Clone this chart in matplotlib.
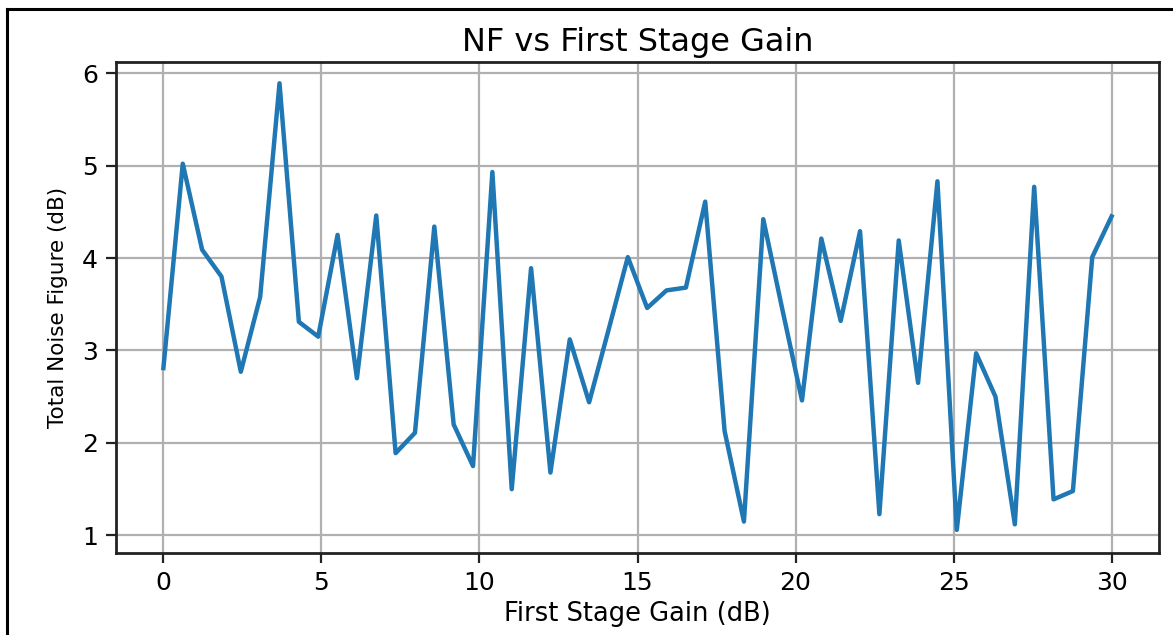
import numpy as np
import matplotlib.pyplot as plt
from matplotlib.lines import Line2D

# first stage gain sweep (dB), 50 evenly spaced points from 0 to 30
gain_start = 0
gain_stop = 30
n_points = 50

# total noise figure (dB)
nf_total = [2.81, 5.02, 4.09, 3.80, 2.77, 3.58, 5.89, 3.31, 3.15, 4.25,
            2.70, 4.46, 1.89, 2.11, 4.34, 2.20, 1.75, 4.93, 1.50, 3.89,
            1.68, 3.12, 2.44, 3.22, 4.01, 3.46, 3.65, 3.68, 4.61, 2.13,
            1.15, 4.42, 3.43, 2.46, 4.21, 3.32, 4.29, 1.23, 4.19, 2.65,
            4.83, 1.06, 2.97, 2.50, 1.12, 4.77, 1.39, 1.48, 4.01, 4.45]

x_ticks = [0, 5, 10, 15, 20, 25, 30]
y_ticks = [1, 2, 3, 4, 5, 6]

gain = np.linspace(gain_start, gain_stop, n_points)

W, H = 1173, 635
fig = plt.figure(figsize=(W / 100, H / 100), dpi=100)
ax = fig.add_axes([116 / W, 1 - 553 / H, (1159 - 116) / W, (553 - 62) / H])

ax.plot(gain, nf_total, color='#1f77b4', linewidth=3.2)
ax.grid(True, color='#b0b0b0', linewidth=1.6)
ax.set_axisbelow(True)

ax.set_xticks(x_ticks)
ax.set_yticks(y_ticks)
ax.set_xlim(-1.5, 31.5)
ax.set_ylim(0.81, 6.12)
ax.tick_params(labelsize=18, length=7, width=1.6, color='#222222', pad=6)
for s in ax.spines.values():
    s.set_linewidth(2)
    s.set_color('#222222')

ax.set_title('NF vs First Stage Gain', fontsize=23, pad=8)
ax.set_xlabel('First Stage Gain (dB)', fontsize=18.5, labelpad=4)
ax.set_ylabel('Total Noise Figure (dB)', fontsize=15.5, labelpad=10)

# screenshot frame along top and left edges
fig.add_artist(Line2D([7 / W, 7 / W], [0, 1 - 9 / H], transform=fig.transFigure,
                      color='black', linewidth=2.2))
fig.add_artist(Line2D([7 / W, 1], [1 - 9 / H, 1 - 9 / H], transform=fig.transFigure,
                      color='black', linewidth=2.2))

fig.savefig('out.png', dpi=100)
